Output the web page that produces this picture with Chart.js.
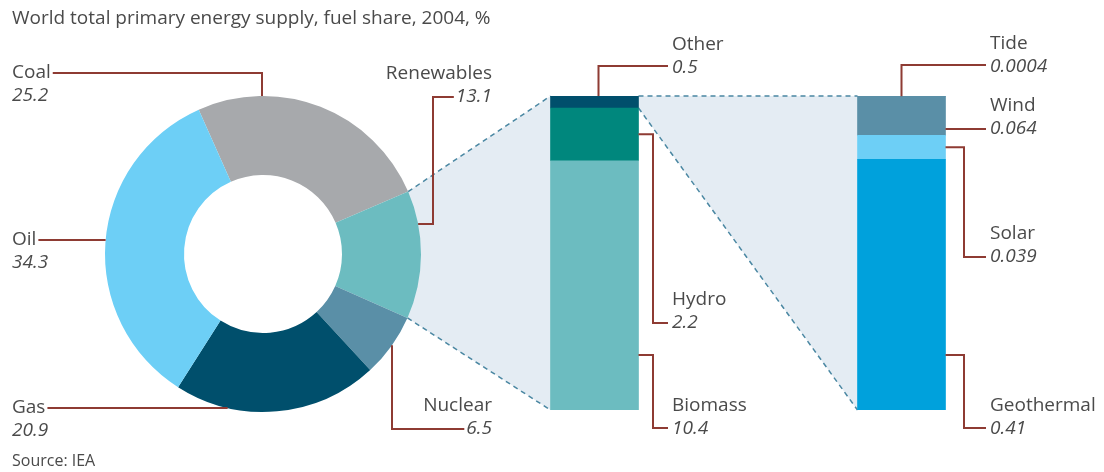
<!DOCTYPE html>
<html>
<head>
<meta charset="utf-8">
<script src="https://cdn.jsdelivr.net/npm/chart.js@4.4.1/dist/chart.umd.min.js"></script>
<style>
  body { margin: 0; background: #fff; }
  #wrap { position: relative; width: 1104px; height: 472px; }
  #wrap canvas { position: absolute; left: 0; top: 0; }
</style>
</head>
<body>
<div id="wrap">
  <canvas id="pie" width="1104" height="472"></canvas>
  <canvas id="bars" width="1104" height="472"></canvas>
</div>
<script>
// données
const fuelLabels = ['Coal', 'Renewables', 'Nuclear', 'Gas', 'Oil'];
const fuelShares = [25.2, 13.1, 6.5, 20.9, 34.3];
const renewLabels = ['Biomass', 'Hydro', 'Other'];
const renewShares = [10.4, 2.2, 0.5];
const otherLabels = ['Geothermal', 'Solar', 'Wind', 'Tide'];
const otherShares = [0.41, 0.039, 0.064, 0.0004];

const fuelColors = ['#a7a9ac', '#6cbcc0', '#5a8fa7', '#004f6c', '#6dcff6'];
const renewColors = ['#6cbcc0', '#00877d', '#004f6c'];
const otherColors = ['#00a1dc', '#6dcff6', '#5a8fa7', '#5a8fa7'];

const FONT = '"Open Sans", sans-serif';
const TEXT = '#4a4a4a';
const LEAD = '#8e3b33';
const FUNNEL = '#e4ecf3';
const DASH = '#4a87a2';

function polyline(ctx, pts) {
    ctx.save();
    ctx.strokeStyle = LEAD;
    ctx.lineWidth = 2;
    ctx.beginPath();
    ctx.moveTo(pts[0][0], pts[0][1]);
    for (let i = 1; i < pts.length; i++) ctx.lineTo(pts[i][0], pts[i][1]);
    ctx.stroke();
    ctx.restore();
}

// nom au-dessus, valeur en italique dessous
function drawLabel(ctx, name, value, x, y, align) {
    ctx.save();
    ctx.fillStyle = TEXT;
    ctx.textAlign = align;
    ctx.textBaseline = 'middle';
    ctx.font = '19px ' + FONT;
    ctx.fillText(name, x, y);
    const w1 = ctx.measureText(name).width;
    ctx.font = 'italic 19px ' + FONT;
    ctx.fillText(String(value), x, y + 23);
    const w2 = ctx.measureText(String(value)).width;
    ctx.restore();
    return { name: w1, value: w2 };
}

function el(chart, ds, i) {
    return chart.getDatasetMeta(ds).data[i];
}

// graphique à barres empilées (énergies renouvelables et "other")
const barLabelsPlugin = {
    id: 'barLabels',
    afterDatasetsDraw(chart) {
        const ctx = chart.ctx;
        const bio = el(chart, 0, 0), hyd = el(chart, 1, 0), oth = el(chart, 2, 0);
        const geo = el(chart, 3, 1), sol = el(chart, 4, 1), win = el(chart, 5, 1);
        const r1 = bio.x + bio.width / 2;
        const r2 = geo.x + geo.width / 2;

        drawLabel(ctx, renewLabels[2], renewShares[2], 672, 45, 'left');
        polyline(ctx, [[oth.x + 4, oth.y], [oth.x + 4, 66], [668, 66]]);

        drawLabel(ctx, renewLabels[1], renewShares[1], 672, 300, 'left');
        polyline(ctx, [[r1, (hyd.y + hyd.base) / 2], [653, (hyd.y + hyd.base) / 2], [653, 323], [668, 323]]);

        drawLabel(ctx, renewLabels[0], renewShares[0], 672, 406, 'left');
        polyline(ctx, [[r1, 355], [653, 355], [653, 428], [668, 428]]);

        drawLabel(ctx, otherLabels[3], otherShares[3], 990, 44, 'left');
        polyline(ctx, [[geo.x, win.y], [geo.x, 65], [986, 65]]);

        drawLabel(ctx, otherLabels[2], otherShares[2], 990, 106, 'left');
        polyline(ctx, [[r2, 129], [986, 129]]);

        drawLabel(ctx, otherLabels[1], otherShares[1], 990, 234, 'left');
        polyline(ctx, [[r2, (sol.y + sol.base) / 2], [964, (sol.y + sol.base) / 2], [964, 257], [986, 257]]);

        drawLabel(ctx, otherLabels[0], otherShares[0], 990, 406, 'left');
        polyline(ctx, [[r2, 355], [964, 355], [964, 428], [986, 428]]);
    }
};

const barChart = new Chart(document.getElementById('bars'), {
    type: 'bar',
    data: {
        labels: ['Renewables', 'Other'],
        datasets: [
            ...renewLabels.map((l, i) => ({
                label: l, data: [renewShares[i], null], backgroundColor: renewColors[i], yAxisID: 'y'
            })),
            ...otherLabels.map((l, i) => ({
                label: l, data: [null, otherShares[i]], backgroundColor: otherColors[i], yAxisID: 'y2'
            }))
        ]
    },
    options: {
        responsive: false,
        animation: false,
        barThickness: 88,
        borderWidth: 0,
        layout: { padding: { left: 441, right: 49, top: 96, bottom: 62 } },
        plugins: { legend: { display: false }, tooltip: { enabled: false } },
        scales: {
            x: { stacked: true, display: false, offset: true },
            y: { stacked: true, display: false, min: 0, max: 13.1 },
            y2: { stacked: true, display: false, min: 0, max: otherShares.reduce((a, b) => a + b, 0) }
        }
    },
    plugins: [barLabelsPlugin]
});

// entonnoirs et étiquettes du graphique en anneau
const piePlugin = {
    id: 'pieExtras',
    beforeDatasetsDraw(chart) {
        const ctx = chart.ctx;
        const arc = el(chart, 0, 1);
        const R = arc.outerRadius;
        const p1 = [arc.x + R * Math.cos(arc.startAngle), arc.y + R * Math.sin(arc.startAngle)];
        const p2 = [arc.x + R * Math.cos(arc.endAngle), arc.y + R * Math.sin(arc.endAngle)];
        const bio = el(barChart, 0, 0), oth = el(barChart, 2, 0), geo = el(barChart, 3, 1);
        const l1 = bio.x - bio.width / 2, r1 = bio.x + bio.width / 2;
        const l2 = geo.x - geo.width / 2;
        const top = oth.y, bottom = bio.base;

        ctx.save();
        ctx.fillStyle = FUNNEL;
        ctx.beginPath();
        ctx.moveTo(p1[0], p1[1]); ctx.lineTo(l1, top); ctx.lineTo(l1, bottom); ctx.lineTo(p2[0], p2[1]);
        ctx.closePath(); ctx.fill();
        ctx.beginPath();
        ctx.moveTo(r1, top); ctx.lineTo(l2, top); ctx.lineTo(l2, bottom); ctx.lineTo(r1, oth.base);
        ctx.closePath(); ctx.fill();

        ctx.strokeStyle = DASH;
        ctx.lineWidth = 1.5;
        ctx.setLineDash([5, 4]);
        ctx.beginPath();
        ctx.moveTo(p1[0], p1[1]); ctx.lineTo(l1, top);
        ctx.moveTo(p2[0], p2[1]); ctx.lineTo(l1, bottom);
        ctx.moveTo(r1, top); ctx.lineTo(l2, top);
        ctx.moveTo(r1, oth.base); ctx.lineTo(l2, bottom);
        ctx.stroke();
        ctx.restore();
    },
    afterDatasetsDraw(chart) {
        const ctx = chart.ctx;
        const a = el(chart, 0, 0);
        const cx = a.x, cy = a.y, R = a.outerRadius;
        const edgeX = (y, side) => cx + side * Math.sqrt(R * R - (y - cy) * (y - cy));
        const edgeY = (x) => cy + Math.sqrt(R * R - (x - cx) * (x - cx));

        ctx.save();
        ctx.fillStyle = TEXT;
        ctx.textBaseline = 'middle';
        ctx.font = '19px ' + FONT;
        ctx.fillText('World total primary energy supply, fuel share, 2004, %', 12, 19);
        ctx.font = '16px ' + FONT;
        ctx.fillText('Source: IEA', 12, 461);
        ctx.restore();

        let w = drawLabel(ctx, fuelLabels[0], fuelShares[0], 12, 73, 'left');
        polyline(ctx, [[14 + w.name, 73], [cx - 1, 73], [cx - 1, cy - R]]);

        w = drawLabel(ctx, fuelLabels[4], fuelShares[4], 12, 240, 'left');
        polyline(ctx, [[14 + w.name, 240], [edgeX(240, -1), 240]]);

        w = drawLabel(ctx, fuelLabels[3], fuelShares[3], 12, 408, 'left');
        polyline(ctx, [[14 + w.name, 408], [edgeX(408, -1), 408]]);

        w = drawLabel(ctx, fuelLabels[1], fuelShares[1], 492, 74, 'right');
        polyline(ctx, [[490 - w.value, 97], [433, 97], [433, 224], [edgeX(224, 1), 224]]);

        w = drawLabel(ctx, fuelLabels[2], fuelShares[2], 492, 406, 'right');
        polyline(ctx, [[392, edgeY(392)], [392, 429], [490 - w.value, 429]]);
    }
};

new Chart(document.getElementById('pie'), {
    type: 'doughnut',
    data: {
        labels: fuelLabels,
        datasets: [{
            data: fuelShares,
            backgroundColor: fuelColors,
            borderWidth: 0
        }]
    },
    options: {
        responsive: false,
        animation: false,
        cutout: '50%',
        rotation: -24,
        layout: { padding: { left: 105, right: 683, top: 96, bottom: 60 } },
        plugins: { legend: { display: false }, tooltip: { enabled: false } }
    },
    plugins: [piePlugin]
});
</script>
</body>
</html>
